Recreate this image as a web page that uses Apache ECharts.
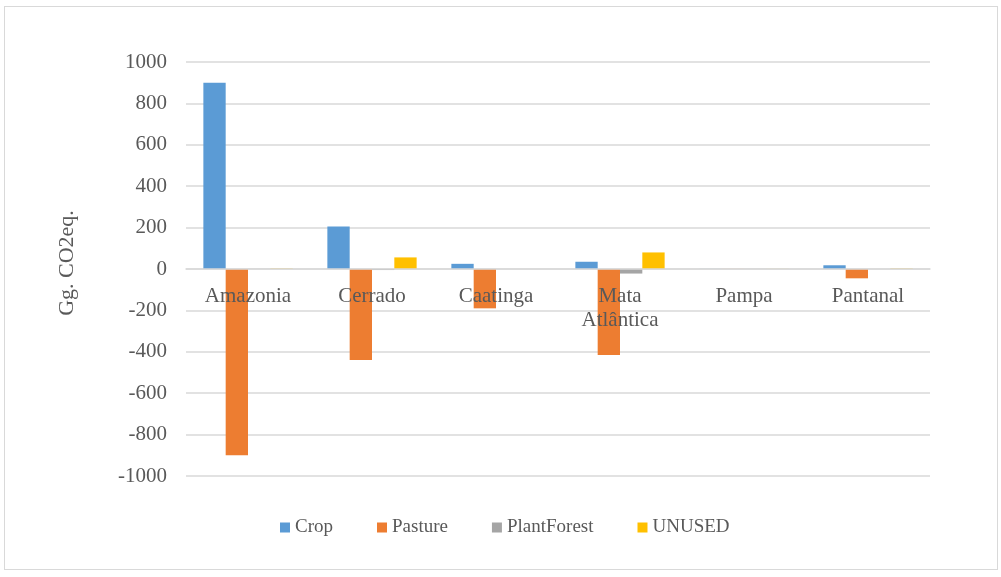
<!DOCTYPE html>
<html>
<head>
<meta charset="utf-8">
<script src="https://cdn.jsdelivr.net/npm/echarts@6/dist/echarts.min.js"></script>
<style>
html,body{margin:0;padding:0;background:#fff;}
#frame{position:absolute;left:4px;top:6px;width:994px;height:564px;border:1px solid #d9d9d9;box-sizing:border-box;}
#chart{position:absolute;left:0;top:0;width:1001px;height:577px;}
</style>
</head>
<body>
<div id="frame"></div>
<div id="chart"></div>
<script>
const categories = ['Amazonia', 'Cerrado', 'Caatinga', 'Mata\nAtlântica', 'Pampa', 'Pantanal'];
const crop = [900, 205, 25, 35, 0.5, 18];
const pasture = [-900, -440, -190, -415, 0.5, -45];
const plantForest = [0.5, -5, 0, -22, 0.5, 0];
const unused = [2, 56, 0, 80, 0.5, 2];
const yTicks = { min: -1000, max: 1000, interval: 200 };
const seriesNames = ['Crop', 'Pasture', 'PlantForest', 'UNUSED'];
const colors = ['#5B9BD5', '#ED7D31', '#A5A5A5', '#FFC000'];

const font = 'Liberation Serif';
const textColor = '#595959';
const chart = echarts.init(document.getElementById('chart'));
const dataSets = [crop, pasture, plantForest, unused];
chart.setOption({
  animation: false,
  color: colors,
  grid: { left: 186, right: 71, top: 62, bottom: 101, containLabel: false },
  legend: {
    bottom: 35,
    left: 275,
    itemWidth: 10, itemHeight: 10, itemGap: 44,
    icon: 'rect',
    textStyle: { fontFamily: font, fontSize: 19, color: textColor },
    data: seriesNames
  },
  xAxis: {
    type: 'category',
    data: categories,
    offset: -207.5,
    z: 10,
    axisLine: { onZero: false, lineStyle: { color: '#d9d9d9', width: 1.5 } },
    axisTick: { show: false },
    axisLabel: { fontFamily: font, fontSize: 21, color: textColor, margin: 16, lineHeight: 24, interval: 0 }
  },
  yAxis: {
    type: 'value',
    min: yTicks.min, max: yTicks.max, interval: yTicks.interval,
    name: 'Gg. CO2eq.',
    nameLocation: 'middle',
    nameGap: 108,
    nameRotate: 90,
    nameTextStyle: { fontFamily: font, fontSize: 22, color: textColor, padding: [0, 0, 0, 12] },
    axisLine: { show: false },
    axisTick: { show: false },
    axisLabel: { fontFamily: font, fontSize: 21, color: textColor, margin: 19, formatter: v => String(v) },
    splitLine: { lineStyle: { color: '#d9d9d9', width: 1.5 } }
  },
  series: seriesNames.map((n, i) => ({
    name: n,
    type: 'bar',
    data: dataSets[i],
    barGap: '0%',
    barCategoryGap: '28%',
    itemStyle: { color: colors[i] }
  }))
});
</script>
</body>
</html>
